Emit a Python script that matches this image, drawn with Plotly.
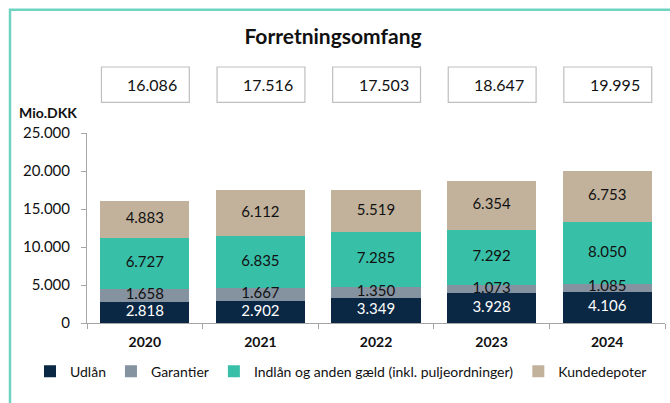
import plotly.graph_objects as go

years = ["2020", "2021", "2022", "2023", "2024"]
udlaan = [2818, 2902, 3349, 3928, 4106]
garantier = [1658, 1667, 1350, 1073, 1085]
indlaan = [6727, 6835, 7285, 7292, 8050]
kundedepoter = [4883, 6112, 5519, 6354, 6753]
totals = [16086, 17516, 17503, 18647, 19995]

series = [
    ("Udlån", udlaan, "#0A2744", "white"),
    ("Garantier", garantier, "#8592A0", "#111111"),
    ("Indlån og anden gæld (inkl. puljeordninger)", indlaan, "#38BFA8", "#111111"),
    ("Kundedepoter", kundedepoter, "#C2B29C", "#111111"),
]

FONT = "Lato, Carlito, Calibri, sans-serif"


def dk(v):
    return f"{v:,.0f}".replace(",", ".")


fig = go.Figure()
for name, vals, color, tcol in series:
    fig.add_trace(go.Bar(
        name=name, x=years, y=vals,
        marker=dict(color=color, line=dict(width=0)),
        hoverinfo="skip",
    ))

# data labels drawn on top of all bars
base = [0] * len(years)
for name, vals, color, tcol in series:
    mids = [b + v / 2 for b, v in zip(base, vals)]
    fig.add_trace(go.Scatter(
        x=years, y=mids, mode="text", text=[dk(v) for v in vals],
        textposition="middle center",
        textfont=dict(color=tcol, size=15, family=FONT),
        showlegend=False, hoverinfo="skip",
    ))
    base = [b + v for b, v in zip(base, vals)]

shapes = [
    dict(type="rect", xref="paper", yref="paper",
         x0=(10 - 87) / 578, x1=1.05, y0=-0.6, y1=(323.3 - 10) / 190,
         line=dict(color="#6FD3C2", width=2.5), fillcolor="rgba(0,0,0,0)", layer="below"),
]
annotations = [
    dict(text="<b>Mio.DKK</b>", xref="paper", yref="paper",
         x=(17 - 87) / 578, y=(323.3 - 113) / 190, xanchor="left", yanchor="middle",
         showarrow=False, font=dict(size=14, color="#111111", family=FONT)),
]
for i, t in enumerate(totals):
    shapes.append(dict(type="rect", xref="x", yref="paper",
                       x0=i - 0.375, x1=i + 0.385,
                       y0=(323.3 - 102.7) / 190, y1=(323.3 - 67.3) / 190,
                       line=dict(color="#BFBFBF", width=1.2), fillcolor="white"))
    annotations.append(dict(text=dk(t), xref="x", yref="paper",
                            x=i + 0.30, y=(323.3 - 85) / 190,
                            xanchor="right", yanchor="middle", showarrow=False,
                            font=dict(size=16, color="#111111", family=FONT)))

fig.update_layout(
    width=670, height=403,
    barmode="stack", bargap=0.23,
    separators=",.",
    paper_bgcolor="white", plot_bgcolor="white",
    margin=dict(l=87, r=5, t=133, b=80),
    font=dict(family=FONT, color="#111111", size=14),
    title=dict(text="<b>Forretningsomfang</b>", x=333 / 670, xanchor="center",
               y=1 - 37 / 403, yanchor="middle",
               font=dict(size=21, color="#111111", family=FONT)),
    xaxis=dict(type="category", showline=True, linecolor="#A6A6A6", linewidth=1,
               ticks="outside", tickson="boundaries", ticklen=5, tickcolor="#A6A6A6",
               tickfont=dict(size=14, color="#111111", family=FONT),
               tickprefix="<b>", ticksuffix="</b>", ticklabelstandoff=6,
               showgrid=False, fixedrange=True),
    yaxis=dict(range=[0, 25000], dtick=5000, tickformat=",.0f",
               showline=True, linecolor="#A6A6A6", linewidth=1,
               ticks="outside", ticklen=5, tickcolor="#A6A6A6",
               tickfont=dict(size=15, color="#111111", family=FONT),
               ticklabelstandoff=8,
               showgrid=False, zeroline=False, fixedrange=True),
    legend=dict(orientation="h", x=(30 - 87) / 578, y=(323.3 - 372) / 190,
                xanchor="left", yanchor="middle",
                font=dict(size=14, color="#111111", family=FONT),
                traceorder="normal", itemwidth=30, bgcolor="rgba(0,0,0,0)"),
    shapes=shapes,
    annotations=annotations,
    showlegend=True,
)

fig.write_html("out.html", config={"displayModeBar": False},
               post_script="document.body.style.margin='0';document.body.style.overflow='hidden';")
